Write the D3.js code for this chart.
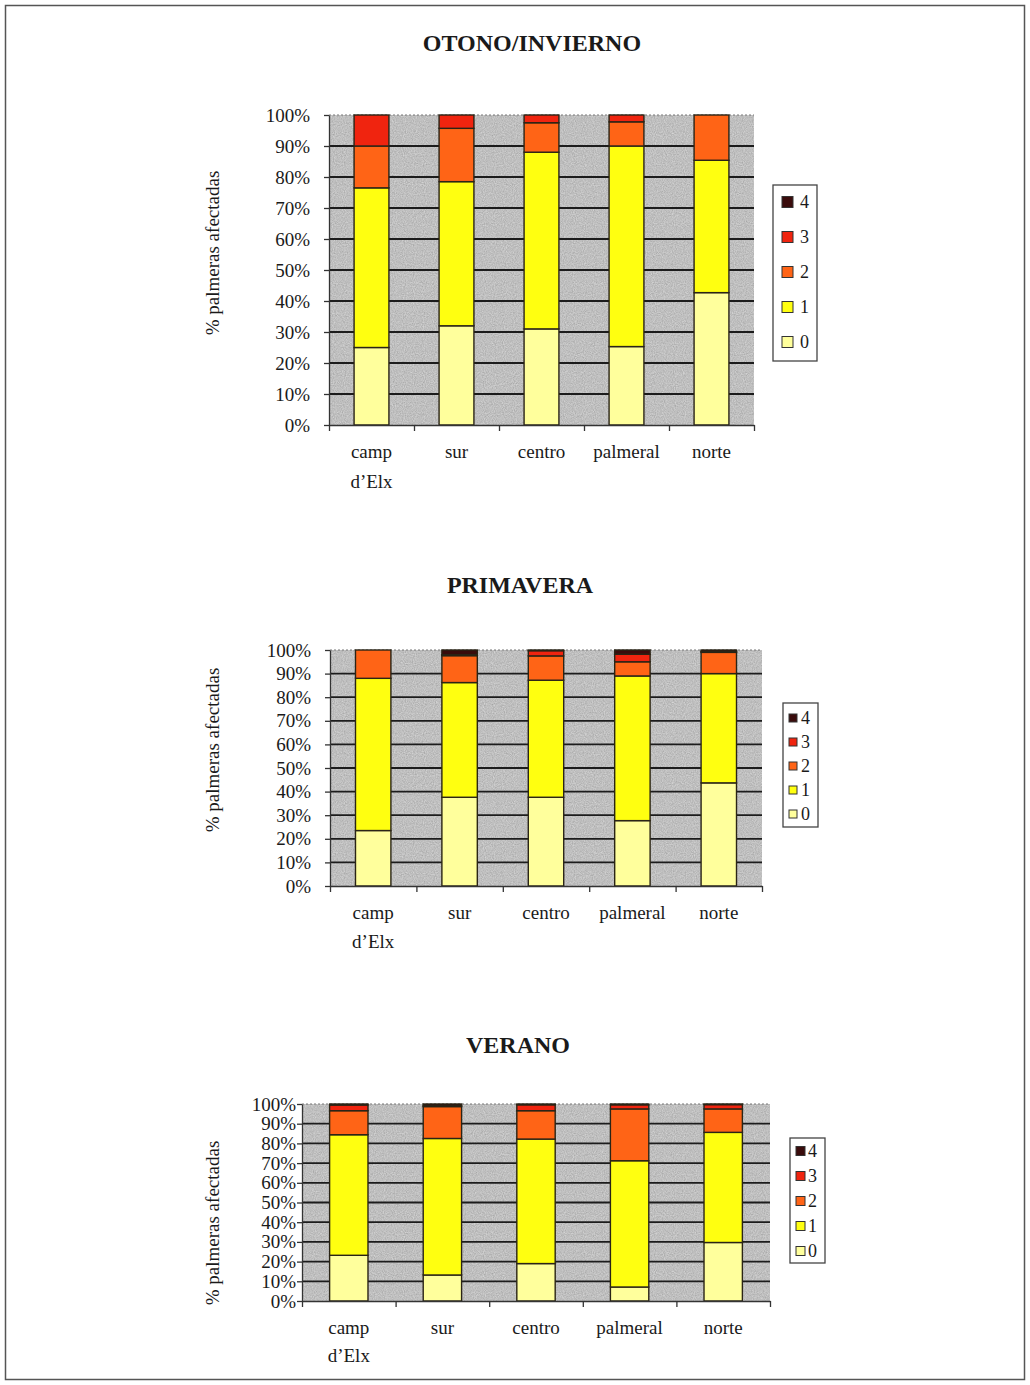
<!DOCTYPE html>
<html>
<head>
<meta charset="utf-8">
<script src="https://cdn.jsdelivr.net/npm/d3@7"></script>
<style>
  body { margin: 0; background: #ffffff; }
  svg { display: block; }
  text { font-family: "Liberation Serif", "Times New Roman", serif; fill: #1a1a1a; }
</style>
</head>
<body>
<svg id="page" width="1030" height="1385"></svg>
<script>
// Zones of the palm grove and damage grades (0 = healthy … 4 = most affected)
const zonas = ["camp d’Elx", "sur", "centro", "palmeral", "norte"];
const zonaLineas = [["camp", "d’Elx"], ["sur"], ["centro"], ["palmeral"], ["norte"]];
const grados = ["0", "1", "2", "3", "4"];
const gradoColores = ["#ffff9c", "#ffff10", "#ff6416", "#f0240f", "#3a0c0c"];
const ticksY = [0, 10, 20, 30, 40, 50, 60, 70, 80, 90, 100];

// % of palms in each grade, one row per zone (grades 0..4)
const otonoInvierno = [
  [25.0, 51.5, 13.5, 10.0, 0.0],
  [32.0, 46.5, 17.2, 4.3, 0.0],
  [31.0, 57.0, 9.5, 2.5, 0.0],
  [25.3, 64.7, 7.8, 2.2, 0.0],
  [42.7, 42.7, 14.6, 0.0, 0.0]
];
const primavera = [
  [23.5, 64.5, 12.0, 0.0, 0.0],
  [37.6, 48.6, 11.4, 0.4, 2.0],
  [37.6, 49.6, 10.3, 2.2, 0.3],
  [27.7, 61.3, 6.0, 3.2, 1.8],
  [43.7, 46.3, 9.0, 0.3, 0.7]
];
const verano = [
  [23.2, 61.2, 12.2, 2.9, 0.5],
  [13.2, 69.3, 16.2, 0.4, 0.9],
  [19.0, 63.2, 14.4, 3.0, 0.4],
  [7.1, 64.1, 26.3, 2.1, 0.4],
  [29.7, 55.9, 11.9, 2.2, 0.3]
];

const svg = d3.select("#page");

// grainy grey fill for the plot areas
const defs = svg.append("defs");
const grain = defs.append("filter").attr("id", "grain")
  .attr("x", 0).attr("y", 0).attr("width", "100%").attr("height", "100%")
  .attr("color-interpolation-filters", "sRGB");
grain.append("feTurbulence").attr("type", "fractalNoise").attr("baseFrequency", 0.9)
  .attr("numOctaves", 2).attr("seed", 5);
grain.append("feColorMatrix").attr("type", "saturate").attr("values", 0);
const ct = grain.append("feComponentTransfer");
["feFuncR", "feFuncG", "feFuncB"].forEach(f =>
  ct.append(f).attr("type", "linear").attr("slope", 0.3).attr("intercept", 0.6));
ct.append("feFuncA").attr("type", "linear").attr("slope", 0).attr("intercept", 1);
grain.append("feComposite").attr("operator", "in").attr("in2", "SourceGraphic");

// page frame
svg.append("rect").attr("x", 5.5).attr("y", 5.5).attr("width", 1019).attr("height", 1374)
  .attr("fill", "none").attr("stroke", "#555").attr("stroke-width", 1.5);

function drawSeason(title, rows, L) {
  const g = svg.append("g");
  const x = d3.scaleBand().domain(zonas).range([L.left, L.right]);
  const xb = d3.scaleLinear().domain([0, zonas.length]).range([L.left, L.right]);
  const y = d3.scaleLinear().domain([0, 100]).range([L.bottom, L.top]);

  const table = rows.map((r, i) => {
    const o = { zona: zonas[i] };
    grados.forEach((k, j) => { o[k] = r[j]; });
    return o;
  });
  const series = d3.stack().keys(grados)(table);

  // title
  g.append("text").attr("x", L.titleX).attr("y", L.titleY)
    .attr("text-anchor", "middle").attr("font-size", 24).attr("font-weight", "bold")
    .text(title);

  // plot background
  g.append("rect").attr("x", L.left).attr("y", L.top)
    .attr("width", L.right - L.left).attr("height", L.bottom - L.top)
    .attr("fill", "#bdbdbd").attr("filter", "url(#grain)");
  g.append("line").attr("x1", L.left).attr("x2", L.right)
    .attr("y1", y(100)).attr("y2", y(100))
    .attr("stroke", "#777").attr("stroke-width", 1).attr("stroke-dasharray", "2,2");

  // gridlines
  g.selectAll("line.grid").data(ticksY.filter(t => t > 0 && t < 100)).join("line")
    .attr("class", "grid")
    .attr("x1", L.left).attr("x2", L.right)
    .attr("y1", d => y(d)).attr("y2", d => y(d))
    .attr("stroke", "#1c1c1c").attr("stroke-width", 1.8);

  // stacked bars
  const bw = x.bandwidth() * L.barFrac;
  g.selectAll("g.serie").data(series).join("g")
    .attr("class", "serie")
    .attr("fill", (d, i) => gradoColores[i])
    .selectAll("rect").data(d => d.filter(s => s[1] - s[0] > 0)).join("rect")
    .attr("x", d => x(d.data.zona) + (x.bandwidth() - bw) / 2)
    .attr("width", bw)
    .attr("y", d => y(d[1]))
    .attr("height", d => y(d[0]) - y(d[1]))
    .attr("stroke", "#2a2416").attr("stroke-width", 1.4);

  // y axis
  const ay = g.append("g").attr("transform", `translate(${L.left},0)`)
    .call(d3.axisLeft(y).tickValues(ticksY).tickFormat(d => d + "%")
      .tickSize(5).tickSizeOuter(0).tickPadding(L.labelGap));
  ay.select(".domain").attr("stroke", "#333").attr("stroke-width", 1.3);
  ay.selectAll(".tick line").attr("stroke", "#333").attr("stroke-width", 1.3);
  ay.selectAll(".tick text").attr("font-size", 19)
    .attr("font-family", "'Liberation Serif', serif").attr("fill", "#1a1a1a");

  // x axis with ticks between zones
  const ax = g.append("g").attr("transform", `translate(0,${L.bottom})`)
    .call(d3.axisBottom(xb).tickValues(d3.range(zonas.length + 1))
      .tickFormat("").tickSize(6).tickSizeOuter(0));
  ax.select(".domain").attr("stroke", "#333").attr("stroke-width", 1.3);
  ax.selectAll(".tick line").attr("stroke", "#333").attr("stroke-width", 1.3);

  // zone labels
  g.selectAll("text.zona").data(zonas).join("text")
    .attr("class", "zona")
    .attr("text-anchor", "middle").attr("font-size", 19)
    .attr("transform", d => `translate(${x(d) + x.bandwidth() / 2},${L.labelY})`)
    .each(function (d, i) {
      d3.select(this).selectAll("tspan").data(zonaLineas[i]).join("tspan")
        .attr("x", 0).attr("y", (t, k) => k * L.labelStep).text(t => t);
    });

  // y axis title
  g.append("text")
    .attr("transform", `translate(${L.yTitleX},${L.yTitleY}) rotate(-90)`)
    .attr("text-anchor", "middle").attr("font-size", 19)
    .text("% palmeras afectadas");

  // legend
  const lg = g.append("g");
  lg.append("rect").attr("x", L.legX).attr("y", L.legY)
    .attr("width", L.legW).attr("height", L.legH)
    .attr("fill", "#fff").attr("stroke", "#444").attr("stroke-width", 1.3);
  const order = grados.slice().reverse();
  const item = lg.selectAll("g.item").data(order).join("g")
    .attr("class", "item")
    .attr("transform", (d, i) => `translate(${L.legX + L.sqX},${L.legFirst + i * L.legStep})`);
  item.append("rect")
    .attr("x", 0).attr("y", -L.sq / 2).attr("width", L.sq).attr("height", L.sq)
    .attr("fill", d => gradoColores[+d]).attr("stroke", "#333").attr("stroke-width", 1);
  item.append("text")
    .attr("x", L.sq + L.txtGap).attr("y", 0).attr("dy", "0.35em")
    .attr("font-size", 18).text(d => d);
}

drawSeason("OTONO/INVIERNO", otonoInvierno, {
  left: 329, right: 754, top: 115, bottom: 425, barFrac: 0.41, labelGap: 14,
  titleX: 532, titleY: 51, labelY: 458, labelStep: 30, yTitleX: 219, yTitleY: 253,
  legX: 773, legY: 185, legW: 44, legH: 176, sqX: 9, sq: 11, txtGap: 7, legFirst: 202, legStep: 35
});

drawSeason("PRIMAVERA", primavera, {
  left: 330, right: 762, top: 650, bottom: 886, barFrac: 0.41, labelGap: 14,
  titleX: 520, titleY: 593, labelY: 919, labelStep: 29, yTitleX: 219, yTitleY: 750,
  legX: 783, legY: 703, legW: 35, legH: 124, sqX: 6, sq: 8, txtGap: 4, legFirst: 718, legStep: 24
});

drawSeason("VERANO", verano, {
  left: 302, right: 770, top: 1104, bottom: 1301, barFrac: 0.41, labelGap: 1,
  titleX: 518, titleY: 1053, labelY: 1334, labelStep: 28, yTitleX: 219, yTitleY: 1223,
  legX: 790, legY: 1138, legW: 35, legH: 125, sqX: 6, sq: 9, txtGap: 3, legFirst: 1151, legStep: 25
});
</script>
</body>
</html>
